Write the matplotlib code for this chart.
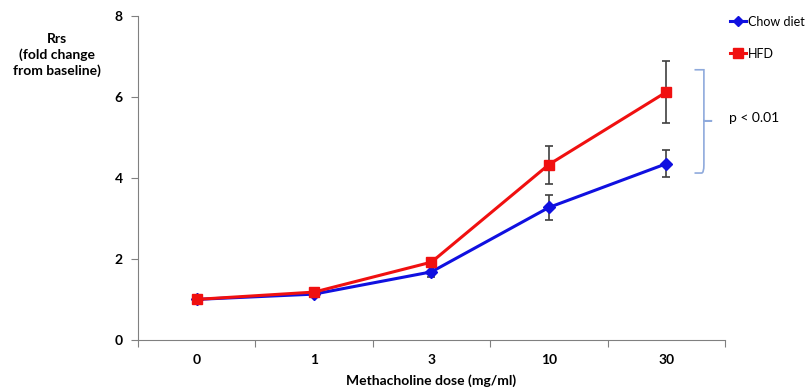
import numpy as np
import matplotlib.pyplot as plt
from matplotlib.path import Path
from matplotlib.patches import PathPatch
from matplotlib.lines import Line2D

plt.rcParams['font.family'] = ['Lato', 'DejaVu Sans']

doses = ['0', '1', '3', '10', '30']
chow = [1.0, 1.13, 1.68, 3.27, 4.35]
chow_err = [0.03, 0.04, 0.12, 0.30, 0.33]
hfd = [1.0, 1.18, 1.92, 4.33, 6.12]
hfd_err = [0.03, 0.05, 0.08, 0.47, 0.77]

x = np.arange(len(doses))
blue = '#1010E0'
red = '#F01010'

fig = plt.figure(figsize=(8.11, 3.88), dpi=100)
ax = fig.add_axes([0.170, 0.124, 0.724, 0.835])

ax.errorbar(x, chow, yerr=chow_err, color=blue, lw=2.2, marker='D', ms=6,
            ecolor='#404040', elinewidth=1.2, capsize=3, capthick=1.2, zorder=3)
ax.errorbar(x, hfd, yerr=hfd_err, color=red, lw=2.2, marker='s', ms=7,
            ecolor='#404040', elinewidth=1.2, capsize=3, capthick=1.2, zorder=4)

ax.set_xlim(-0.5, len(doses) - 0.5)
ax.set_ylim(0, 8)
ax.set_yticks([0, 2, 4, 6, 8])
ax.set_xticks(np.arange(len(doses) + 1) - 0.5)
ax.set_xticklabels([])
ax.set_xticks(x, minor=True)
ax.set_xticklabels(doses, minor=True)
ax.tick_params(axis='x', which='minor', length=0, pad=10)
ax.tick_params(axis='x', which='major', length=5, color='#808080', direction='out')
ax.tick_params(axis='y', length=5, color='#808080', direction='out', pad=6)
for lab in ax.get_xticklabels(minor=True) + ax.get_yticklabels():
    lab.set_fontweight('bold')
    lab.set_fontsize(10)

for s in ['top', 'right']:
    ax.spines[s].set_visible(False)
for s in ['left', 'bottom']:
    ax.spines[s].set_color('#808080')

ax.set_xlabel('Methacholine dose (mg/ml)', fontweight='bold', fontsize=10, labelpad=6)
fig.text(0.07, 0.858, 'Rrs\n(fold change\nfrom baseline)', ha='center', va='center',
         fontweight='bold', fontsize=10, linespacing=1.3)

# curly brace in data coords
x0, x1, x2 = 4.24, 4.32, 4.39
yt, ym, yb = 6.67, 5.41, 4.12
verts = [(x0, yt), (x1 - 0.02, yt), (x1, yt), (x1, yt - 0.2),
         (x1, ym + 0.1), (x1, ym), (x2, ym),
         (x1, ym), (x1, ym - 0.1), (x1, yb + 0.2),
         (x1, yb), (x1 - 0.02, yb), (x0, yb)]
codes = [Path.MOVETO, Path.CURVE3, Path.CURVE3, Path.LINETO,
         Path.CURVE3, Path.CURVE3, Path.LINETO,
         Path.LINETO, Path.CURVE3, Path.LINETO,
         Path.CURVE3, Path.CURVE3, Path.LINETO]
ax.add_patch(PathPatch(Path(verts, codes), fill=False, edgecolor='#8FAADC', lw=1.2, clip_on=False))
ax.text(4.53, ym + 0.08, 'p < 0.01', fontsize=10, va='center', ha='left', clip_on=False)

handles = [Line2D([], [], color=blue, lw=2.2, marker='D', ms=5.5),
           Line2D([], [], color=red, lw=2.2, marker='s', ms=6.5)]
ax.legend(handles, ['Chow diet', 'HFD'], loc='upper left', bbox_to_anchor=(0.900, 0.960),
          bbox_transform=fig.transFigure, frameon=False, fontsize=9, handlelength=1.3,
          handletextpad=0.15, labelspacing=1.6, borderaxespad=0, borderpad=0)

fig.savefig('out.png', dpi=100)
